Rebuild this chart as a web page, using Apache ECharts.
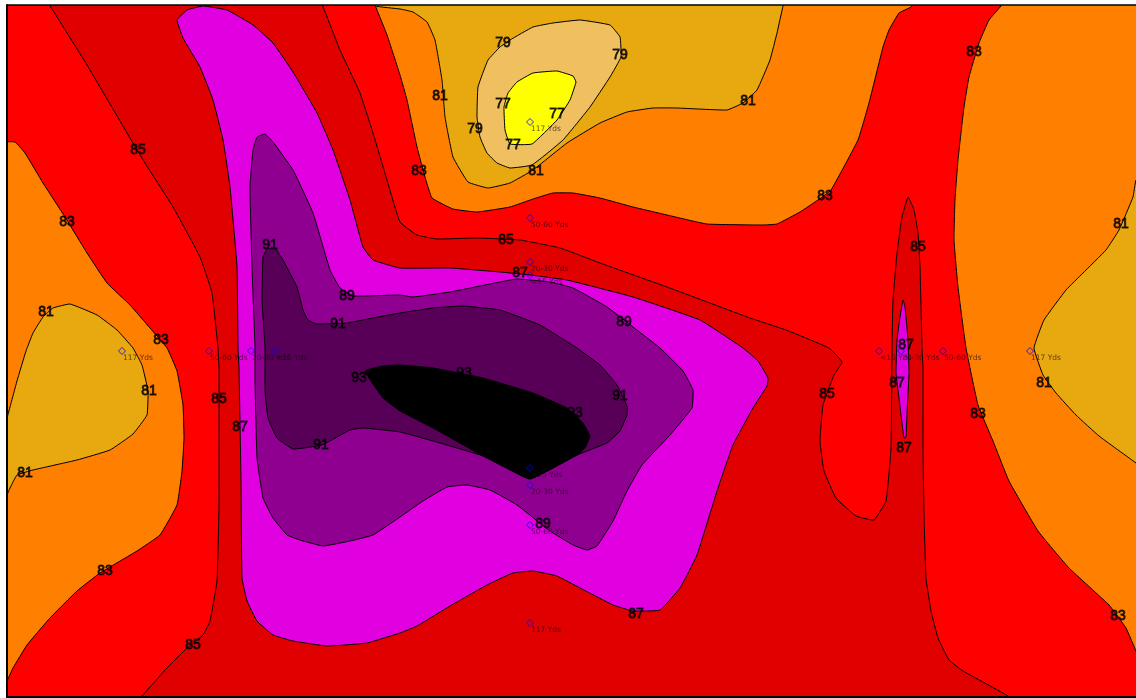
<!DOCTYPE html>
<html><head><meta charset="utf-8">
<style>html,body{margin:0;padding:0;background:#fff;overflow:hidden}#c{width:1136px;height:698px}</style>
<script src="https://cdn.jsdelivr.net/npm/echarts@6/dist/echarts.min.js"></script>
</head><body><div id="c"></div>
<script>
// Field extent, in the picture's own field units
const xRange = [7, 1136];
const yRange = [5, 697];

// Contour bands: [x, y] outlines
const band83 = [[7,5],[1136,5],[1136,697],[7,697]];
const orangeLeft = [[0,143],[15,142],[25,153],[43,183],[65,217],[87,253],[107,283],[130,305],[150,328],[167,348],[177,371],[183,405],[184,438],[182,471],[177,505],[160,535],[137,551],[100,573],[77,591],[50,618],[27,645],[13,668],[7,681],[0,690]];
const orangeCentre = [[373,0],[375,5],[387,35],[400,75],[407,100],[417,147],[425,177],[432,198],[453,209],[477,212],[510,207],[533,199],[553,193],[573,193],[600,198],[633,207],[667,215],[707,224],[763,225],[777,224],[800,212],[818,200],[831,190],[858,140],[869,103],[883,47],[889,30],[899,13],[911,7],[915,0]];
const orangeRight = [[1004,0],[1001,6],[989,20],[979,43],[969,77],[964,107],[958,160],[955,200],[954,240],[958,287],[966,348],[978,405],[993,441],[1009,481],[1038,531],[1069,568],[1109,605],[1126,628],[1136,651],[1145,670],[1145,0]];
const goldLeft = [[0,440],[7,418],[17,381],[26,351],[33,333],[43,317],[53,308],[70,304],[97,315],[117,330],[133,348],[142,365],[148,391],[147,415],[133,434],[110,450],[77,460],[33,470],[17,475],[10,488],[7,495],[0,510]];
const goldCentre = [[375,0],[375,6],[400,9],[413,12],[427,22],[435,40],[442,80],[445,117],[453,157],[468,182],[488,188],[510,183],[533,170],[567,143],[600,123],[627,112],[653,108],[677,108],[727,110],[743,103],[757,90],[770,60],[777,33],[783,6],[785,0]];
const goldRight = [[1145,175],[1136,180],[1133,197],[1119,230],[1106,250],[1083,273],[1066,290],[1044,320],[1034,348],[1043,375],[1056,393],[1076,415],[1099,436],[1136,463],[1145,470]];
const pale79 = [[510,40],[533,27],[553,23],[580,20],[610,25],[620,37],[621,57],[610,77],[590,107],[563,140],[532,165],[510,168],[497,163],[487,153],[480,137],[477,117],[478,87],[488,60],[500,47]];
const yellow77 = [[517,82],[533,73],[557,71],[573,76],[576,82],[570,100],[557,120],[532,144],[510,144],[505,130],[504,107],[508,93]];
const deep85 = [[49,0],[49,4],[87,65],[130,138],[143,160],[173,207],[200,257],[212,293],[218,348],[219,368],[219,505],[217,581],[210,621],[203,635],[187,648],[167,668],[142,696],[135,705],[1015,705],[1008,696],[963,671],[949,660],[938,638],[931,611],[926,578],[924,515],[923,448],[923,368],[922,348],[920,267],[918,233],[914,210],[908,197],[902,217],[897,253],[893,300],[892,347],[891,448],[886,501],[874,520],[856,516],[836,498],[824,471],[820,441],[823,405],[834,375],[842,362],[829,348],[786,330],[750,318],[667,287],[600,263],[560,248],[520,240],[477,238],[437,239],[417,235],[400,222],[387,180],[373,133],[360,93],[340,50],[322,4],[320,0]];
const magenta87 = [[177,20],[187,10],[203,6],[227,10],[253,25],[273,43],[293,72],[317,113],[333,150],[350,200],[363,247],[373,260],[400,268],[450,268],[500,272],[530,275],[567,280],[633,297],[700,320],[743,348],[758,361],[768,378],[767,386],[753,408],[733,445],[717,491],[697,555],[680,588],[660,610],[633,611],[613,605],[580,588],[557,576],[533,571],[513,573],[487,585],[450,606],[417,626],[400,633],[367,643],[327,646],[293,641],[273,635],[257,621],[247,601],[242,578],[241,481],[239,368],[238,348],[237,267],[230,187],[223,140],[213,100],[200,67],[183,38]];
const sliver87 = [[903,300],[900,317],[897,340],[896,373],[899,398],[902,423],[904,438],[906,437],[907,413],[909,373],[908,340],[905,307]];
const purple89 = [[257,137],[265,134],[273,142],[293,170],[313,213],[330,270],[340,288],[353,296],[400,295],[413,297],[450,292],[500,282],[517,279],[550,282],[573,288],[607,307],[633,327],[660,348],[683,371],[693,390],[692,408],[670,435],[642,465],[627,491],[613,521],[597,546],[587,550],[573,545],[550,531],[517,505],[490,490],[467,485],[447,487],[423,501],[400,517],[373,535],[350,541],[323,546],[300,540],[287,535],[273,518],[263,498],[257,458],[255,381],[255,348],[252,267],[250,187],[253,150]];
const dark91 = [[263,257],[267,249],[275,248],[283,260],[297,287],[303,310],[308,320],[317,324],[347,323],[373,318],[400,313],[433,308],[463,306],[500,310],[540,325],[577,348],[600,365],[617,385],[627,406],[627,415],[620,431],[607,443],[577,455],[530,479],[483,456],[433,441],[400,432],[363,428],[350,430],[322,445],[293,449],[277,438],[268,418],[265,391],[265,348],[262,300]];
const black93 = [[365,371],[383,366],[400,365],[433,368],[483,378],[533,393],[567,408],[583,423],[590,436],[585,448],[577,455],[530,479],[507,468],[483,456],[433,428],[400,411],[383,398]];

// Paint order and fill of each band
const bandOutlines = [band83, orangeLeft, orangeCentre, orangeRight, goldLeft, goldCentre, goldRight, pale79, yellow77, deep85, magenta87, sliver87, purple89, dark91, black93];
const bandColours = ['#FF0000','#FF8000','#FF8000','#FF8000','#E8A810','#E8A810','#E8A810','#F0C060','#FFFF00','#E00000','#E000E0','#E000E0','#900090','#580058','#000000'];

// Contour labels
const contourValues = ['79','79','81','77','77','79','77','81','81','83','83','85','87','85','83','81','85','83','91','89','91','81','83','89','93','93','93','91','81','85','87','91','85','87','87','87','83','81','81','89','83','87','85','83'];
const contourX = [503,620,440,503,557,475,513,536,748,419,825,506,520,918,974,1121,138,67,270,347,338,46,161,624,359,464,575,620,149,219,240,321,827,906,897,904,978,1044,25,543,105,636,193,1118];
const contourY = [42,54,95,103,113,128,144,170,100,170,195,239,272,246,51,223,149,221,244,295,323,311,339,321,377,372,412,395,390,398,426,444,393,344,382,447,413,382,472,523,570,613,644,615];

// Measuring stations
const stationNames = ['117 Yds','50-60 Yds','20-30 Yds','<15 Yds','117 Yds','50-60 Yds','20-30 Yds','<15 Yds','<15 Yds','20-30 Yds','50-60 Yds','117 Yds','<15 Yds','20-30 Yds','50-60 Yds','117 Yds'];
const stationX = [122,209,251,275,530,530,530,530,530,530,530,530,879,901,943,1030];
const stationY = [351,351,351,351,122,218,262,275,468,485,525,623,351,351,351,351];

const chart = echarts.init(document.getElementById('c'), null, {renderer:'canvas'});
chart.setOption({
  animation:false,
  backgroundColor:'#fff',
  grid:{left:xRange[0],top:yRange[0],right:0,bottom:698-yRange[1],show:false},
  xAxis:{type:'value',min:xRange[0],max:xRange[1],show:true,position:'bottom',z:10,
    axisLine:{show:true,onZero:false,lineStyle:{color:'#000',width:2}},axisTick:{show:false},axisLabel:{show:false},splitLine:{show:false}},
  yAxis:{type:'value',min:yRange[0],max:yRange[1],inverse:true,show:true,position:'left',z:10,
    axisLine:{show:true,onZero:false,lineStyle:{color:'#000',width:2}},axisTick:{show:false},axisLabel:{show:false},splitLine:{show:false}},
  series:[
    {type:'custom',silent:true,clip:true,z:2,coordinateSystem:'cartesian2d',
     data:bandOutlines.map((o,i)=>[o[0][0],o[0][1],i]),
     encode:{x:0,y:1},
     renderItem:(params,api)=>{
       const i=api.value(2);
       const pts=bandOutlines[i].map(p=>api.coord(p));
       return {type:'polygon',shape:{points:pts,smooth:i===0?0:0.1},
         style:{fill:bandColours[i],stroke:i===0?'none':'#000',lineWidth:1}};
     }},
    {type:'line',silent:true,z:9,symbol:'none',clip:false,
     data:[[xRange[0],yRange[0]],[xRange[1],yRange[0]]],lineStyle:{color:'#000',width:1.5}},
    {type:'scatter',silent:true,z:4,symbol:'diamond',symbolSize:7,clip:false,
     data:stationX.map((x,i)=>({value:[x,stationY[i]],name:stationNames[i]})),
     itemStyle:{color:'transparent',borderColor:'#0000ff',borderWidth:1},
     label:{show:true,formatter:p=>p.name,position:'inside',align:'left',verticalAlign:'middle',offset:[1,7],
       fontFamily:'DejaVu Sans',fontSize:7.5,color:'rgba(30,0,20,0.85)'}},
    {type:'scatter',silent:true,z:5,symbolSize:0,clip:false,
     data:contourX.map((x,i)=>({value:[x,contourY[i]],name:contourValues[i]})),
     label:{show:true,formatter:p=>p.name,position:'inside',align:'center',verticalAlign:'middle',offset:[0,1],
       fontFamily:'Liberation Sans',fontSize:14,color:'#000',textBorderColor:'#000',textBorderWidth:0.8}}
  ]
});
</script></body></html>
